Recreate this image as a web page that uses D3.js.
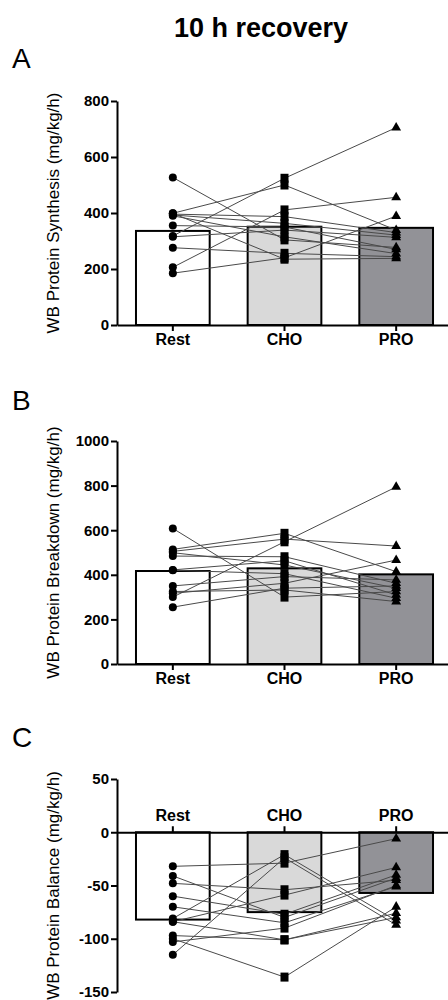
<!DOCTYPE html>
<html>
<head>
<meta charset="utf-8">
<script src="https://cdn.jsdelivr.net/npm/d3@7"></script>
<style>
  body { margin: 0; background: #fff; }
  svg text { font-family: "Liberation Sans", Arial, sans-serif; }
</style>
</head>
<body>
<script>
// groups on the x axis
const groups = ['Rest', 'CHO', 'PRO'];

// A - synthesis (bar = mean, points = subjects)
const synthMeans = [336, 351, 347];
const synthRest = [527, 399, 396, 393, 355, 315, 318, 276, 206, 185, 390, 399];
const synthCho  = [304, 500, 387, 363, 350, 339, 524, 256, 411, 240, 315, 235];
const synthPro  = [277, 339, 330, 321, 270, 313, 705, 244, 456, 389, 255, 238];
const synthTicks = [0, 200, 400, 600, 800];

// B - breakdown
const breakMeans = [417, 429, 402];
const breakRest = [608, 514, 505, 484, 499, 422, 420, 350, 325, 300, 317, 255];
const breakCho  = [300, 586, 560, 481, 444, 463, 405, 392, 332, 548, 362, 340];
const breakPro  = [325, 414, 529, 362, 340, 310, 295, 377, 280, 794, 466, 350];
const breakTicks = [0, 200, 400, 600, 800, 1000];

// C - balance
const balMeans = [-82, -75, -57];
const balRest = [-32, -41, -48, -60, -70, -81, -84, -97, -100, -103, -115, -84];
const balCho  = [-29, -80, -54, -77, -85, -21, -59, -101, -136, -90, -24, -101];
const balPro  = [-6, -43, -45, -40, -51, -83, -33, -76, -70, -50, -87, -80];
const balTicks = [-150, -100, -50, 0, 50];

const W = 448, H = 1000;
const barFill = ['#ffffff', '#d9d9d9', '#929297'];

const svg = d3.select('body').append('svg')
  .attr('width', W)
  .attr('height', H);

svg.append('text')
  .attr('x', 261)
  .attr('y', 37)
  .attr('text-anchor', 'middle')
  .attr('font-size', 27)
  .attr('font-weight', 'bold')
  .text('10 h recovery');

const x = d3.scaleBand()
  .domain(groups)
  .range([117, 452])
  .paddingInner(0.34)
  .paddingOuter(0.17);

function panel(opt) {
  const y = d3.scaleLinear().domain(opt.domain).range(opt.range);
  const g = svg.append('g');

  g.append('text')
    .attr('x', 12)
    .attr('y', opt.labelY)
    .attr('font-size', 28)
    .text(opt.letter);

  // bars from zero
  g.selectAll('rect.bar')
    .data(opt.means)
    .enter()
    .append('rect')
    .attr('class', 'bar')
    .attr('x', (d, i) => x(groups[i]))
    .attr('width', x.bandwidth())
    .attr('y', d => Math.min(y(d), y(0)))
    .attr('height', d => Math.abs(y(d) - y(0)))
    .attr('fill', (d, i) => barFill[i])
    .attr('stroke', '#000')
    .attr('stroke-width', 2);

  // subject lines
  const cx = groups.map(k => x(k) + x.bandwidth() / 2);
  const subjects = opt.rest.map((d, i) => [d, opt.cho[i], opt.pro[i]]);
  const line = d3.line().x((d, i) => cx[i]).y(d => y(d));
  g.selectAll('path.subj')
    .data(subjects)
    .enter()
    .append('path')
    .attr('class', 'subj')
    .attr('d', line)
    .attr('fill', 'none')
    .attr('stroke', '#4a4a4a')
    .attr('stroke-width', 1);

  // markers
  g.selectAll('circle.pt')
    .data(opt.rest)
    .enter()
    .append('circle')
    .attr('class', 'pt')
    .attr('cx', cx[0])
    .attr('cy', d => y(d))
    .attr('r', 4)
    .attr('fill', '#000');

  g.selectAll('rect.pt')
    .data(opt.cho)
    .enter()
    .append('rect')
    .attr('class', 'pt')
    .attr('x', cx[1] - 4)
    .attr('y', d => y(d) - 4.5)
    .attr('width', 8)
    .attr('height', 9)
    .attr('fill', '#000');

  const tri = d3.symbol().type(d3.symbolTriangle).size(42);
  g.selectAll('path.tri')
    .data(opt.pro)
    .enter()
    .append('path')
    .attr('class', 'tri')
    .attr('d', tri)
    .attr('transform', d => 'translate(' + cx[2] + ',' + y(d) + ')')
    .attr('fill', '#000');

  // y axis
  const yAxis = g.append('g')
    .attr('transform', 'translate(117,0)')
    .call(d3.axisLeft(y)
      .tickValues(opt.ticks)
      .tickFormat(d => String(d))
      .tickSize(6)
      .tickSizeOuter(0)
      .tickPadding(2));

  // x axis at zero
  const xAxisFn = opt.top ? d3.axisTop(x) : d3.axisBottom(x);
  const xAxis = g.append('g')
    .attr('transform', 'translate(0,' + y(0) + ')')
    .call(xAxisFn.tickSize(6).tickSizeOuter(0).tickPadding(opt.top ? 5 : 3));

  [yAxis, xAxis].forEach(a => {
    a.select('.domain').attr('stroke', '#000').attr('stroke-width', 2);
    a.selectAll('.tick line').attr('stroke', '#000').attr('stroke-width', 2);
    a.selectAll('.tick text')
      .attr('fill', '#000')
      .attr('font-weight', 'bold')
      .style('font-family', '"Liberation Sans", Arial, sans-serif');
  });
  yAxis.selectAll('.tick text').attr('font-size', 15);
  xAxis.selectAll('.tick text').attr('font-size', 16);

  const mid = (opt.range[0] + opt.range[1]) / 2;
  g.append('text')
    .attr('transform', 'translate(59,' + mid + ') rotate(-90)')
    .attr('text-anchor', 'middle')
    .attr('font-size', 17)
    .text(opt.title);
}

panel({
  letter: 'A', labelY: 68,
  domain: [0, 800], range: [325, 101], ticks: synthTicks,
  means: synthMeans, rest: synthRest, cho: synthCho, pro: synthPro,
  title: 'WB Protein Synthesis (mg/kg/h)'
});

panel({
  letter: 'B', labelY: 410,
  domain: [0, 1000], range: [664, 441], ticks: breakTicks,
  means: breakMeans, rest: breakRest, cho: breakCho, pro: breakPro,
  title: 'WB Protein Breakdown (mg/kg/h)'
});

panel({
  letter: 'C', labelY: 747, top: true,
  domain: [-150, 50], range: [992, 779], ticks: balTicks,
  means: balMeans, rest: balRest, cho: balCho, pro: balPro,
  title: 'WB Protein Balance (mg/kg/h)'
});
</script>
</body>
</html>
